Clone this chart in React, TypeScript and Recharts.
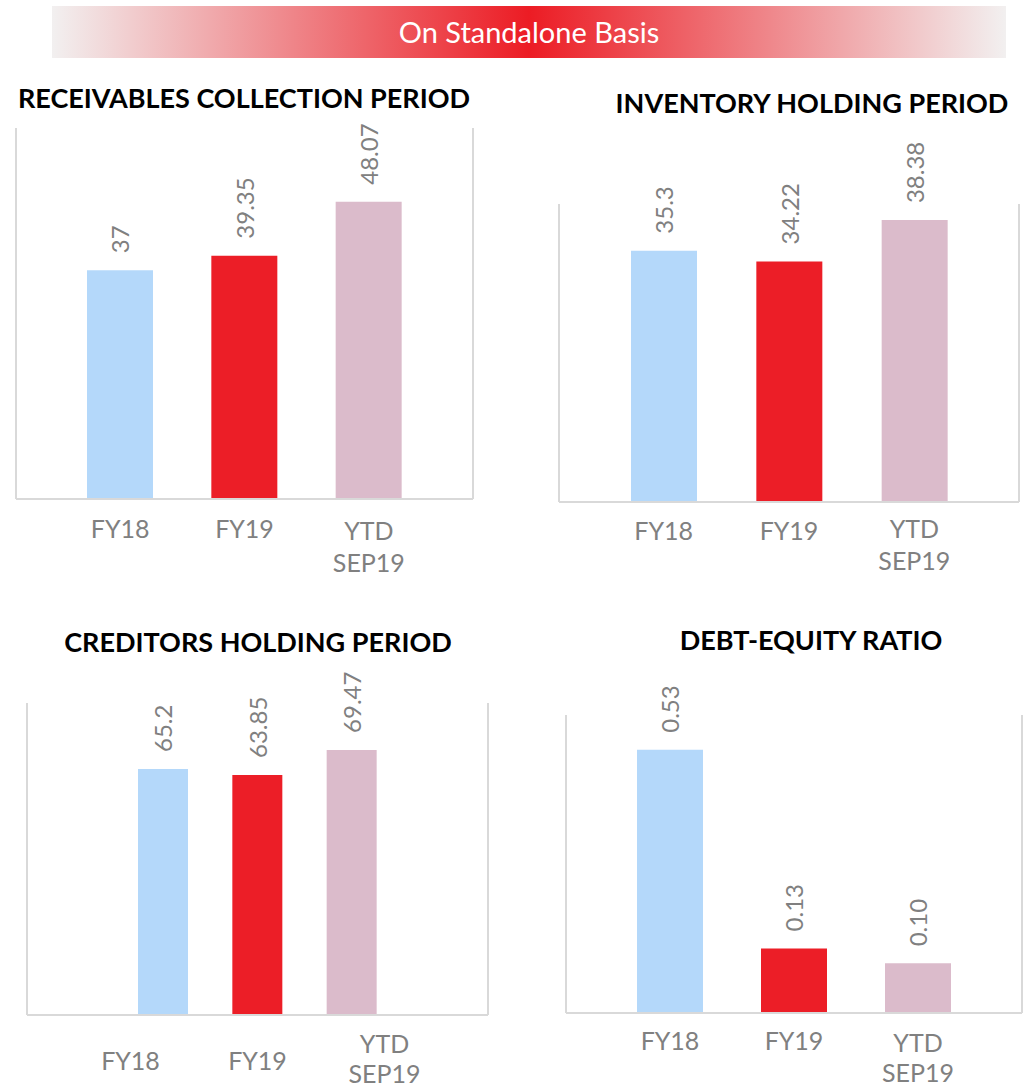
import { BarChart, Bar, XAxis, YAxis, Cell, LabelList } from "recharts";

const CATEGORIES = ["FY18", "FY19", "YTD SEP19"];
const RECEIVABLES = [37, 39.35, 48.07];
const INVENTORY = [35.3, 34.22, 38.38];
const CREDITORS = [65.2, 63.85, 69.47];
const DEBT_EQUITY = [0.53, 0.13, 0.1];

const BAR_COLORS = ["#b4d8fa", "#ec1e27", "#dbbbcb"];
const FRAME = "#d9d9d9";
const GREY = "#808080";
const FONT = "Lato, 'Open Sans', sans-serif";

interface PanelProps {
  title: string;
  titleX: number;
  titleY: number;
  values: number[];
  domain: [number, number];
  frame: { x1: number; x2: number; y1: number; y2: number };
  barSize: number;
  barPad: number;
  tickPad: number;
  single: number;
  first: number;
  gap: number;
  decimals?: number;
}

function CategoryTick(props: any) {
  const { x, y, payload, single, first, gap } = props;
  const lines = String(payload.value).split(" ");
  const common = {
    textAnchor: "middle" as const,
    dominantBaseline: "central" as const,
    fill: GREY,
    fontSize: 25,
    fontFamily: FONT,
  };
  if (lines.length === 1) {
    return <text x={x} y={y + single} {...common}>{lines[0]}</text>;
  }
  return (
    <g>
      {lines.map((l, i) => (
        <text key={i} x={x} y={y + first + i * gap} {...common}>{l}</text>
      ))}
    </g>
  );
}

const valueLabel = (decimals?: number) => (props: any) => {
  const { x, y, width, value } = props;
  const cx = Number(x) + Number(width) / 2;
  const by = Number(y) - 17;
  const text = decimals != null ? Number(value).toFixed(decimals) : String(value);
  return (
    <text
      x={cx}
      y={by}
      transform={`rotate(-90, ${cx}, ${by})`}
      textAnchor="start"
      dominantBaseline="central"
      fill={GREY}
      fontSize={24}
      fontFamily={FONT}
    >
      {text}
    </text>
  );
};

function Panel(p: PanelProps) {
  const data = CATEGORIES.map((name, i) => ({ name, value: p.values[i] }));
  const { x1, x2, y1, y2 } = p.frame;
  const top = 100;
  const bottom = 80;
  const w = x2 - x1 + 20;
  const h = y2 - y1 + top + bottom;
  return (
    <>
      <div style={{ position: "absolute", left: x1 - 10, top: y1 - top, width: w, height: h }}>
        <BarChart width={w} height={h} data={data} margin={{ top, right: 9, bottom: 0, left: 9 }}>
          <XAxis
            xAxisId="bars"
            dataKey="name"
            height={1}
            tick={false}
            tickLine={false}
            axisLine={{ stroke: FRAME, strokeWidth: 2 }}
            padding={{ left: p.barPad, right: p.barPad }}
          />
          <XAxis
            xAxisId="labels"
            dataKey="name"
            height={bottom - 1}
            axisLine={false}
            tickLine={false}
            tickSize={0}
            tickMargin={0}
            interval={0}
            padding={{ left: p.tickPad, right: p.tickPad }}
            tick={(t: any) => <CategoryTick {...t} single={p.single - 1} first={p.first - 1} gap={p.gap} />}
          />
          <YAxis
            domain={p.domain}
            allowDataOverflow
            width={1}
            tick={false}
            tickLine={false}
            axisLine={{ stroke: FRAME, strokeWidth: 2 }}
          />
          <YAxis
            yAxisId="right"
            orientation="right"
            domain={p.domain}
            width={1}
            tick={false}
            tickLine={false}
            axisLine={{ stroke: FRAME, strokeWidth: 2 }}
          />
          <Bar dataKey="value" xAxisId="bars" barSize={p.barSize} isAnimationActive={false}>
            {data.map((_, i) => (
              <Cell key={i} fill={BAR_COLORS[i % BAR_COLORS.length]} />
            ))}
            <LabelList dataKey="value" content={valueLabel(p.decimals)} />
          </Bar>
        </BarChart>
      </div>
      <div
        style={{
          position: "absolute",
          left: p.titleX - 300,
          width: 600,
          top: p.titleY - 18,
          height: 36,
          lineHeight: "36px",
          textAlign: "center",
          fontFamily: FONT,
          fontWeight: 700,
          fontSize: 27,
          color: "#000",
          whiteSpace: "nowrap",
        }}
      >
        {p.title}
      </div>
    </>
  );
}

export default function App() {
  return (
    <div
      style={{
        position: "absolute",
        left: 0,
        top: 0,
        width: 1025,
        height: 1086,
        overflow: "hidden",
        background: "#fff",
      }}
    >
      <div
        style={{
          position: "absolute",
          left: 52,
          top: 6,
          width: 954,
          height: 52,
          background: "linear-gradient(to right, #f2f0f0 0%, #ec1c24 50%, #f2f0f0 100%)",
          color: "#fff",
          fontFamily: FONT,
          fontSize: 29,
          lineHeight: "52px",
          textAlign: "center",
        }}
      >
        On Standalone Basis
      </div>
      <Panel
        title="RECEIVABLES COLLECTION PERIOD"
        titleX={244}
        titleY={98}
        values={RECEIVABLES}
        domain={[0, 60]}
        frame={{ x1: 16, x2: 473, y1: 128, y2: 499 }}
        barSize={66}
        barPad={42}
        tickPad={42}
        single={29}
        first={31}
        gap={32}
      />
      <Panel
        title="INVENTORY HOLDING PERIOD"
        titleX={812}
        titleY={103}
        values={INVENTORY}
        domain={[10, 40]}
        frame={{ x1: 559, x2: 1019, y1: 204, y2: 502 }}
        barSize={66}
        barPad={42}
        tickPad={42}
        single={28}
        first={26}
        gap={32}
      />
      <Panel
        title="CREDITORS HOLDING PERIOD"
        titleX={258}
        titleY={642}
        values={CREDITORS}
        domain={[10, 80]}
        frame={{ x1: 27, x2: 488, y1: 703, y2: 1015 }}
        barSize={50}
        barPad={89}
        tickPad={40}
        single={45}
        first={28}
        gap={30}
      />
      <Panel
        title="DEBT-EQUITY RATIO"
        titleX={811}
        titleY={640}
        values={DEBT_EQUITY}
        domain={[0, 0.6]}
        frame={{ x1: 566, x2: 1022, y1: 715, y2: 1013 }}
        barSize={66}
        barPad={42}
        tickPad={42}
        single={27}
        first={29}
        gap={30}
        decimals={2}
      />
    </div>
  );
}
